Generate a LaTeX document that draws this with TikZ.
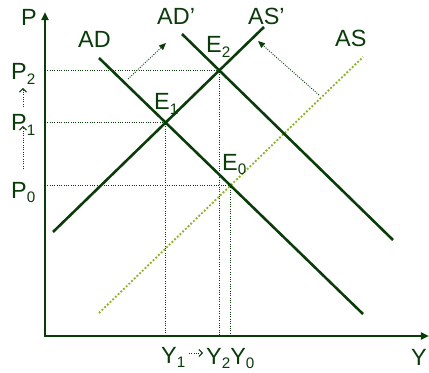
\documentclass[tikz,border=0pt]{standalone}
\usepackage{fontspec}
\setmainfont{Liberation Sans}
\usetikzlibrary{arrows.meta}
\definecolor{dgreen}{RGB}{10,60,10}
\definecolor{lgreen}{RGB}{140,182,40}
\newcommand{\idx}[1]{\raisebox{-4pt}{\fontsize{13}{13}\selectfont #1}}
\tikzset{
  ax/.style={line width=2.4pt,dgreen,{Triangle[length=7pt,width=6pt]}-{Triangle[length=7pt,width=6pt]}},
  crv/.style={line width=2.2pt,dgreen},
  asdot/.style={line width=1.6pt,lgreen,dash pattern=on 1.6pt off 1.6pt},
  guide/.style={line width=0.8pt,dgreen,dash pattern=on 0.8pt off 1.2pt},
  shiftarr/.style={guide,-{Triangle[length=6pt,width=5pt]}},
  mv/.style={guide,-{Straight Barb[length=3pt,width=6pt]}},
  lab/.style={anchor=base west,inner sep=0pt,text=dgreen,font=\fontsize{20}{22}\selectfont},
}

\begin{document}
\begin{tikzpicture}[x=0.03cm,y=-0.03cm]
  \useasboundingbox (0,0) rectangle (429,373);
  % axes
  \coordinate (O) at (45,336);
  \coordinate (ytop) at (45,12);
  \coordinate (xend) at (429,336);
  % curve end points
  \coordinate (ad1) at (99,58);   \coordinate (ad2) at (363,314);
  \coordinate (adp1) at (182,34); \coordinate (adp2) at (393,240);
  \coordinate (asp1) at (53,232); \coordinate (asp2) at (264,27);
  \coordinate (as1) at (99,313);  \coordinate (as2) at (363,57);
  % equilibria
  \coordinate (E0) at (intersection of ad1--ad2 and as1--as2);
  \coordinate (E1) at (intersection of ad1--ad2 and asp1--asp2);
  \coordinate (E2) at (intersection of adp1--adp2 and asp1--asp2);

  \foreach \e in {E0,E1,E2}
    \draw[guide] (\e -| O) -- (\e) -- (\e |- O);

  \draw[asdot] (as1) -- (as2);
  \draw[crv] (ad1) -- (ad2);
  \draw[crv] (adp1) -- (adp2);
  \draw[crv] (asp1) -- (asp2);
  \draw[ax] (ytop) -- (O) -- (xend);

  % shifts
  \coordinate (s1) at (128,79);  \coordinate (s2) at (166,43);
  \coordinate (s3) at (319,95);  \coordinate (s4) at (258,41);
  \draw[shiftarr] (s1) -- (s2);
  \draw[shiftarr] (s3) -- (s4);
  \coordinate (pa1) at (23,169); \coordinate (pa2) at (23,126);
  \coordinate (pb1) at (23,107); \coordinate (pb2) at (23,88);
  \coordinate (ya1) at (189,353); \coordinate (ya2) at (203,353);
  \draw[mv] (pa1) -- (pa2);
  \draw[mv] (pb1) -- (pb2);
  \draw[mv] (ya1) -- (ya2);

  % labels
  \node[lab] (lP) at (21,26) {P};
  \node[lab] (lY) at (411,365) {Y};
  \node[lab] (lAD) at (78,48) {AD};
  \node[lab] (lADp) at (157,25) {AD'};
  \node[lab] (lASp) at (248,25) {AS'};
  \node[lab] (lAS) at (335,47) {AS};
  \node[lab] (lE0) at (222,170) {E\idx{0}};
  \node[lab] (lE1) at (154,110) {E\idx{1}};
  \node[lab] (lE2) at (206,53) {E\idx{2}};
  \node[lab] (lP0) at (11,198) {P\idx{0}};
  \node[lab] (lP1) at (11,131) {P\idx{1}};
  \node[lab] (lP2) at (11,80) {P\idx{2}};
  \node[lab] (lY1) at (161,363) {Y\idx{1}};
  \node[lab] (lY2) at (206,364) {Y\idx{2}Y\idx{0}};
\end{tikzpicture}
\end{document}
